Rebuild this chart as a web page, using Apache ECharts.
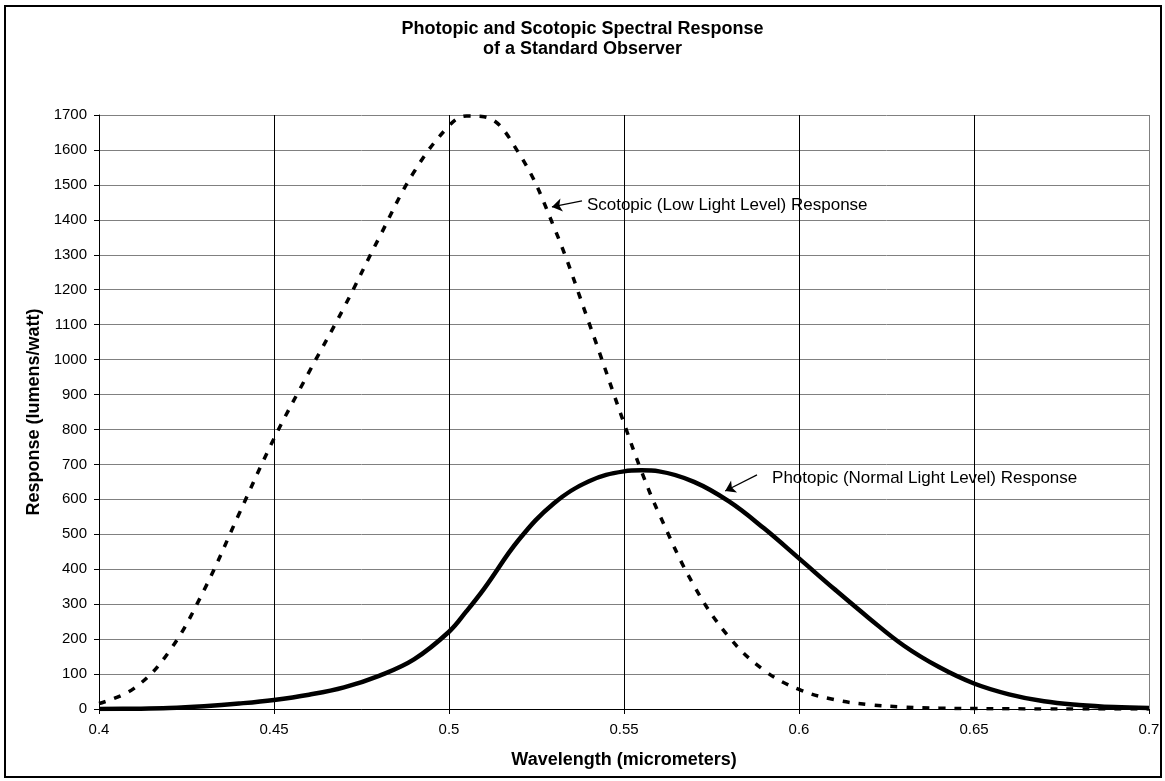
<!DOCTYPE html>
<html>
<head>
<meta charset="utf-8">
<script src="https://cdn.jsdelivr.net/npm/echarts@6/dist/echarts.min.js"></script>
<style>
  html, body { margin: 0; padding: 0; background: #fff; }
  #chart { width: 1165px; height: 781px; }
</style>
</head>
<body>
<div id="chart"></div>
<script>
// Wavelength samples (micrometers)
const wavelengths = [0.40, 0.41, 0.42, 0.43, 0.44, 0.45, 0.46, 0.47, 0.48, 0.49,
  0.50, 0.505, 0.51, 0.52, 0.53, 0.54, 0.55, 0.555, 0.56, 0.57, 0.58, 0.59,
  0.60, 0.61, 0.62, 0.63, 0.64, 0.65, 0.66, 0.67, 0.68, 0.69, 0.70];

// Photopic (Normal Light Level) response, lumens/watt
const photopic = [0.3, 0.8, 2.7, 7.9, 15.7, 26, 41, 62, 95, 142,
  221, 280, 344, 485, 589, 652, 680, 683, 680, 650, 594, 517,
  431, 344, 260, 181, 120, 73, 42, 22, 11.6, 5.6, 2.8];

// Scotopic (Low Light Level) response, lumens/watt
const scotopic = [15.8, 59, 164, 340, 558, 774, 964, 1149, 1348, 1537,
  1669, 1697, 1695, 1590, 1379, 1105, 818, 680, 559, 353, 206, 111,
  56, 27, 12.5, 5.7, 2.5, 1.2, 0.5, 0.25, 0.12, 0.06, 0.03];

const xTickLabels = ['0.4', '0.45', '0.5', '0.55', '0.6', '0.65', '0.7'];
const yTickLabels = ['0','100','200','300','400','500','600','700','800','900','1000',
  '1100','1200','1300','1400','1500','1600','1700'];

const titleLines = ['Photopic and Scotopic Spectral Response', 'of a Standard Observer'];
const xTitle = 'Wavelength (micrometers)';
const yTitle = 'Response (lumens/watt)';
const scotopicNote = 'Scotopic (Low Light Level) Response';
const photopicNote = 'Photopic (Normal Light Level) Response';

// Annotation anchor points in data space: [arrow start, arrow tip, text start]
const scotopicArrow = [[0.538, 1454], [0.5294, 1437], [0.5394, 1442]];
const photopicArrow = [[0.588, 670], [0.5789, 624], [0.5923, 661]];

const FONT = 'Arial, "Liberation Sans", sans-serif';

const chart = echarts.init(document.getElementById('chart'), null, { renderer: 'canvas' });

function pairs(xs, ys) { return xs.map((x, i) => [x, ys[i]]); }

function arrowNote(pts, text) {
  return {
    markLine: {
      silent: true,
      animation: false,
      symbol: ['none', 'arrow'],
      symbolSize: [10, 10],
      label: { show: false },
      lineStyle: { color: '#000', width: 1.2, type: 'solid' },
      emphasis: { disabled: true },
      data: [[{ coord: pts[0] }, { coord: pts[1] }]]
    },
    markPoint: {
      silent: true,
      animation: false,
      symbol: 'circle',
      symbolSize: 0,
      data: [{ coord: pts[2] }],
      label: {
        show: true,
        position: 'right',
        distance: 0,
        formatter: text,
        color: '#000',
        fontFamily: FONT,
        fontSize: 17
      }
    }
  };
}

const option = {
  animation: false,
  backgroundColor: '#fff',
  title: {
    text: titleLines.join('\n'),
    left: 'center',
    top: 14,
    textStyle: { fontFamily: FONT, fontSize: 18, fontWeight: 'bold', color: '#000', lineHeight: 20 }
  },
  grid: { left: 99, right: 16, top: 115, bottom: 72, containLabel: false },
  xAxis: {
    type: 'value',
    min: 0.4, max: 0.7, interval: 0.05,
    name: xTitle,
    nameLocation: 'middle',
    nameGap: 42,
    nameTextStyle: { fontFamily: FONT, fontSize: 18, fontWeight: 'bold', color: '#000' },
    axisLine: { show: true, lineStyle: { color: '#000', width: 1 } },
    axisTick: { show: true, inside: false, length: 5, lineStyle: { color: '#000' } },
    axisLabel: {
      fontFamily: FONT, fontSize: 15, color: '#000', margin: 13,
      formatter: v => xTickLabels[Math.round((v - 0.4) / 0.05)]
    },
    splitLine: { show: true, lineStyle: { color: ['#000', '#000', '#000', '#000', '#000', '#000', '#808080'], width: 1 } }
  },
  yAxis: {
    type: 'value',
    min: 0, max: 1700, interval: 100,
    name: yTitle,
    nameLocation: 'middle',
    nameGap: 56,
    nameRotate: 90,
    nameTextStyle: { fontFamily: FONT, fontSize: 18, fontWeight: 'bold', color: '#000' },
    axisLine: { show: true, lineStyle: { color: '#000', width: 1 } },
    axisTick: { show: true, inside: false, length: 5, lineStyle: { color: '#000' } },
    axisLabel: {
      fontFamily: FONT, fontSize: 15, color: '#000', margin: 12,
      formatter: v => yTickLabels[Math.round(v / 100)]
    },
    splitLine: { show: true, lineStyle: { color: '#808080', width: 1 } }
  },
  series: [
    Object.assign({
      name: 'Scotopic',
      type: 'line',
      data: pairs(wavelengths, scotopic),
      smooth: 0.4,
      showSymbol: false,
      symbol: 'none',
      lineStyle: { color: '#000', width: 3.5, type: [7, 9] },
      z: 3
    }, arrowNote(scotopicArrow, scotopicNote)),
    Object.assign({
      name: 'Photopic',
      type: 'line',
      data: pairs(wavelengths, photopic),
      smooth: 0.4,
      showSymbol: false,
      symbol: 'none',
      lineStyle: { color: '#000', width: 4.5, type: 'solid' },
      z: 4
    }, arrowNote(photopicArrow, photopicNote))
  ],
  graphic: [{
    type: 'rect',
    shape: { x: 5, y: 6, width: 1156, height: 771 },
    style: { fill: 'none', stroke: '#000', lineWidth: 2 },
    silent: true,
    z: 100
  }]
};

chart.setOption(option);
</script>
</body>
</html>
